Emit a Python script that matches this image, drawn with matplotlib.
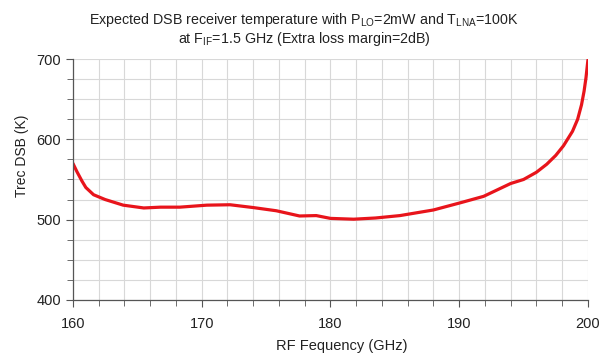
import matplotlib.pyplot as plt
from matplotlib.ticker import MultipleLocator

plt.rcParams['font.family'] = ['Liberation Sans', 'DejaVu Sans']
plt.rcParams['mathtext.fontset'] = 'custom'
plt.rcParams['mathtext.rm'] = 'Liberation Sans'

freq = [160.0, 160.3, 160.7, 161.0, 161.6, 162.5, 163.9, 165.5, 166.8, 168.3, 170.4, 172.2,
        174.0, 175.8, 177.6, 178.9, 180.0, 181.8, 183.5, 185.4, 188.0, 190.1,
        191.9, 194.0, 195.0, 196.0, 196.8, 197.5, 198.1, 198.8, 199.2, 199.5,
        199.7, 199.85, 200.0]
trec = [570, 560, 548, 540, 531, 525, 518, 514.5, 515.5, 515.5, 518, 518.5,
        515, 511, 504.5, 505, 501.5, 500.5, 502, 505, 512, 521,
        529, 545, 550, 559, 569, 580, 592, 610, 625, 643,
        660, 677, 699]

fig = plt.figure(figsize=(6.08, 3.54), dpi=100)
ax = fig.add_axes([0.12, 0.153, 0.847, 0.68])

ax.plot(freq, trec, color='#e8141b', linewidth=2.3, solid_capstyle='round')

ax.set_xlim(160, 200)
ax.set_ylim(400, 700)
ax.xaxis.set_major_locator(MultipleLocator(10))
ax.xaxis.set_minor_locator(MultipleLocator(2))
ax.yaxis.set_major_locator(MultipleLocator(100))
ax.yaxis.set_minor_locator(MultipleLocator(25))
ax.grid(which='both', color='#d8d8d8', linewidth=0.8)
ax.set_axisbelow(True)

for side in ['top', 'right']:
    ax.spines[side].set_visible(False)
for side in ['left', 'bottom']:
    ax.spines[side].set_color('#555555')
    ax.spines[side].set_linewidth(0.9)
ax.tick_params(which='both', direction='out', color='#555555', labelsize=10.5, labelcolor='#222222')
ax.tick_params(which='major', length=5)
ax.tick_params(which='minor', length=4)
ax.tick_params(axis='x', pad=7)

ax.set_xlabel('RF Fequency (GHz)', fontsize=10.5, color='#222222', labelpad=6)
ax.xaxis.label.set_x(0.522)
ax.set_ylabel('Trec DSB (K)', fontsize=10, color='#222222')
ax.yaxis.set_label_coords(-0.085, 0.6)

fig.text(0.5, 0.944, r'Expected DSB receiver temperature with P$_{\mathrm{LO}}$=2mW and T$_{\mathrm{LNA}}$=100K',
         ha='center', va='center', fontsize=10.3, color='#222222')
fig.text(0.5, 0.889, r'at F$_{\mathrm{IF}}$=1.5 GHz (Extra loss margin=2dB)',
         ha='center', va='center', fontsize=10.3, color='#222222')

plt.savefig('out.png', dpi=100)
